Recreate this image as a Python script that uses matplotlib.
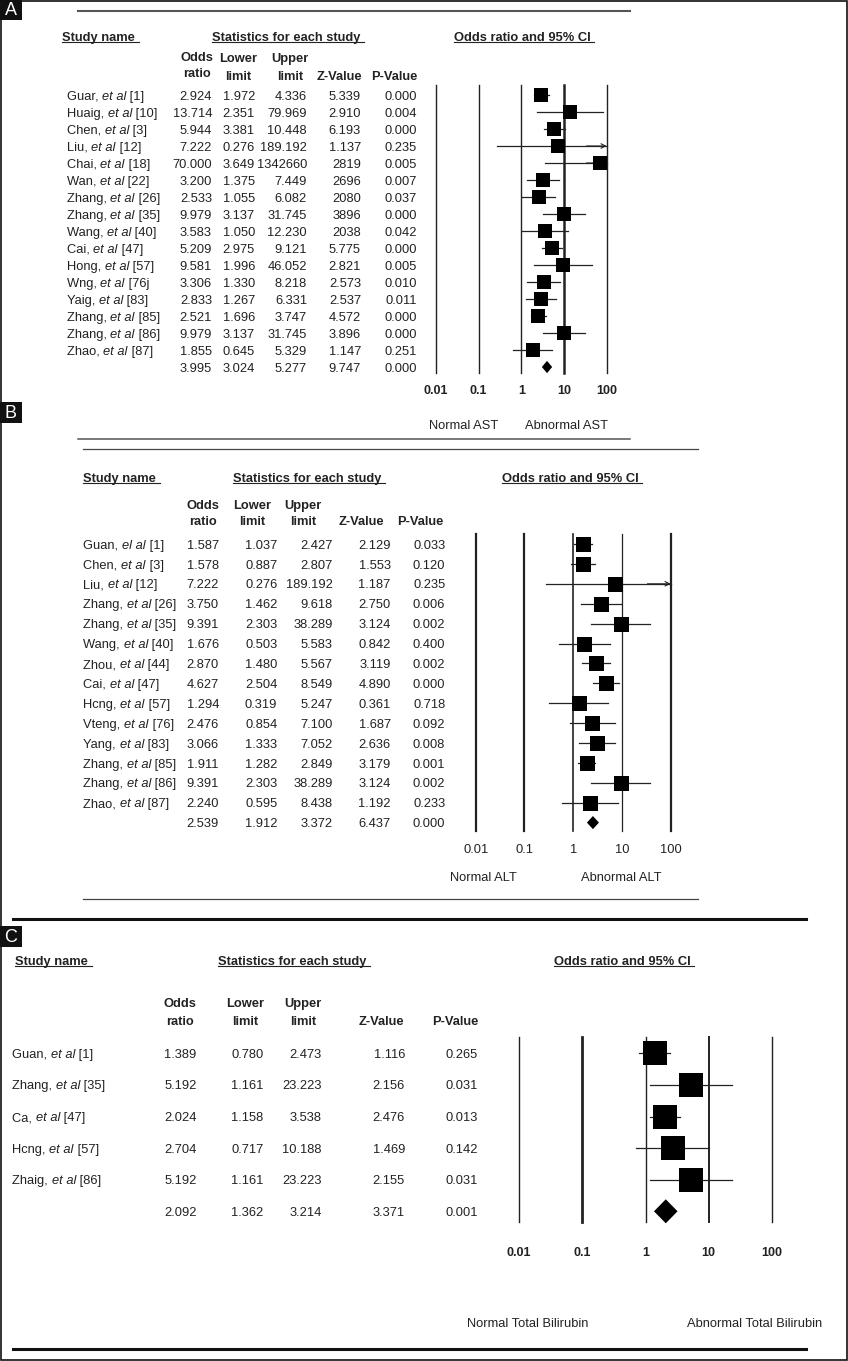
import re
import numpy as np
import matplotlib.pyplot as plt
from matplotlib.patches import Rectangle

plt.rcParams['font.family'] = ['Liberation Sans', 'DejaVu Sans']

W, H = 848, 1361
INK = '#222222'

#### Panel A: AST ####
names_a = ["Guar, et al [1]", "Huaig, et al [10]", "Chen, et al [3]", "Liu, et al [12]",
           "Chai, et al [18]", "Wan, et al [22]", "Zhang, et al [26]", "Zhang, et al [35]",
           "Wang, et al [40]", "Cai, et al [47]", "Hong, et al [57]", "Wng, et al [76j",
           "Yaig, et al [83]", "Zhang, et al [85]", "Zhang, et al [86]", "Zhao, et al [87]", ""]
or_a = ["2.924", "13.714", "5.944", "7.222", "70.000", "3.200", "2.533", "9.979", "3.583",
        "5.209", "9.581", "3.306", "2.833", "2.521", "9.979", "1.855", "3.995"]
lo_a = ["1.972", "2.351", "3.381", "0.276", "3.649", "1.375", "1.055", "3.137", "1.050",
        "2.975", "1.996", "1.330", "1.267", "1.696", "3.137", "0.645", "3.024"]
hi_a = ["4.336", "79.969", "10.448", "189.192", "1342660", "7.449", "6.082", "31.745", "12.230",
        "9.121", "46.052", "8.218", "6.331", "3.747", "31.745", "5.329", "5.277"]
z_a = ["5.339", "2.910", "6.193", "1.137", "2819", "2696", "2080", "3896", "2038",
       "5.775", "2.821", "2.573", "2.537", "4.572", "3.896", "1.147", "9.747"]
p_a = ["0.000", "0.004", "0.000", "0.235", "0.005", "0.007", "0.037", "0.000", "0.042",
       "0.000", "0.005", "0.010", "0.011", "0.000", "0.000", "0.251", "0.000"]

#### Panel B: ALT ####
names_b = ["Guan, el al [1]", "Chen, et al [3]", "Liu, et al [12]", "Zhang, et al [26]",
           "Zhang, et al [35]", "Wang, et al [40]", "Zhou, et al [44]", "Cai, et al [47]",
           "Hcng, et al [57]", "Vteng, et al [76]", "Yang, et al [83]", "Zhang, et al [85]",
           "Zhang, et al [86]", "Zhao, et al [87]", ""]
or_b = ["1.587", "1.578", "7.222", "3.750", "9.391", "1.676", "2.870", "4.627", "1.294",
        "2.476", "3.066", "1.911", "9.391", "2.240", "2.539"]
lo_b = ["1.037", "0.887", "0.276", "1.462", "2.303", "0.503", "1.480", "2.504", "0.319",
        "0.854", "1.333", "1.282", "2.303", "0.595", "1.912"]
hi_b = ["2.427", "2.807", "189.192", "9.618", "38.289", "5.583", "5.567", "8.549", "5.247",
        "7.100", "7.052", "2.849", "38.289", "8.438", "3.372"]
z_b = ["2.129", "1.553", "1.187", "2.750", "3.124", "0.842", "3.119", "4.890", "0.361",
       "1.687", "2.636", "3.179", "3.124", "1.192", "6.437"]
p_b = ["0.033", "0.120", "0.235", "0.006", "0.002", "0.400", "0.002", "0.000", "0.718",
       "0.092", "0.008", "0.001", "0.002", "0.233", "0.000"]

#### Panel C: total bilirubin ####
names_c = ["Guan, et al [1]", "Zhang, et al [35]", "Ca, et al [47]", "Hcng, et al [57]",
           "Zhaig, et al [86]", ""]
or_c = ["1.389", "5.192", "2.024", "2.704", "5.192", "2.092"]
lo_c = ["0.780", "1.161", "1.158", "0.717", "1.161", "1.362"]
hi_c = ["2.473", "23.223", "3.538", "10.188", "23.223", "3.214"]
z_c = ["1.116", "2.156", "2.476", "1.469", "2.155", "3.371"]
p_c = ["0.265", "0.031", "0.013", "0.142", "0.031", "0.001"]

ticks = [0.01, 0.1, 1, 10, 100]
tick_labels = ["0.01", "0.1", "1", "10", "100"]

# layout of each panel, in pixels of the final image
layout_a = dict(head_y=36.7, name_head_x=62, stat_head_x=212, ci_head_x=454,
                hdr2_y=(56.7, 72.7), hdr_y=(57.7, 75), hdr_cx=[197, 238, 290, 339, 394],
                name_x=66.7, row0=95, dy=17, num_right=[212, 255, 307, 361, 417],
                fx=(436, 606.7), fy=(85, 373), tick_y=390.7, tick_bold=True, tick_fs=9,
                line_w=[1.0, 1.0, 1.0, 1.8, 1.0], box=9.4, dia=0.36,
                side=("Normal AST", "Abnormal AST"), side_x=(464, 566.7), side_y=424)
layout_b = dict(head_y=477.7, name_head_x=83, stat_head_x=233, ci_head_x=502,
                hdr2_y=(504, 520.7), hdr_y=(504, 520.7), hdr_cx=[202.7, 251.7, 303, 361, 420],
                name_x=83.3, row0=544, dy=19.9, num_right=[219, 277.3, 332.7, 390.7, 445.3],
                fx=(475.7, 670.7), fy=(534, 830.7), tick_y=850, tick_bold=False, tick_fs=9.3,
                line_w=[1.6, 1.6, 1.2, 0.9, 1.6], box=10.8, dia=0.33,
                side=("Normal ALT", "Abnormal ALT"), side_x=(483, 621), side_y=876.7)
layout_c = dict(head_y=960.7, name_head_x=15, stat_head_x=218, ci_head_x=554,
                hdr2_y=(1002.7, 1020), hdr_y=(1002.7, 1020), hdr_cx=[180.3, 245, 303.3, 381.7, 455],
                name_x=12.3, row0=1053.3, dy=31.6, num_right=[196.7, 263.3, 321.7, 405, 477.7],
                fx=(519, 772), fy=(1036.7, 1221.7), tick_y=1253.3, tick_bold=True, tick_fs=9,
                line_w=[1.0, 2.0, 1.0, 1.4, 1.0], box=17.3, dia=0.38,
                side=("Normal Total Bilirubin", "Abnormal Total Bilirubin"),
                side_x=(527.7, 755), side_y=1322.7)

fig = plt.figure(figsize=(W / 100, H / 100), dpi=100)
bg = fig.add_axes([0, 0, 1, 1])
bg.set_xlim(0, W)
bg.set_ylim(H, 0)
bg.axis('off')
renderer = fig.canvas.get_renderer()

FS = 9.3
BASE = 4.6   # pixels from the middle of a digit down to the baseline


def text_width(s, **kw):
    # width in pixels, keeping trailing spaces by adding a bar and taking it away
    t1 = bg.text(0, 0, s + '|', fontsize=FS, **kw)
    t2 = bg.text(0, 0, '|', fontsize=FS, **kw)
    w = t1.get_window_extent(renderer).width - t2.get_window_extent(renderer).width
    t1.remove()
    t2.remove()
    return w


def put(x, y, s, **kw):
    # y is the visual middle of the line; draw on a shared baseline
    kw.setdefault('fontsize', FS)
    kw.setdefault('color', INK)
    return bg.text(x, y + BASE, s, va='baseline', **kw)


def draw_name(x, y, name):
    for part in re.split(r'(e[tl] al)', name):
        if not part:
            continue
        style = 'italic' if re.fullmatch(r'e[tl] al', part) else 'normal'
        put(x, y, part, style=style, ha='left')
        x += text_width(part, style=style)


def underlined(x, y, s):
    put(x, y, s, fontweight='bold', ha='left')
    w = text_width(s + ' ', fontweight='bold')
    bg.plot([x, x + w], [y + 5.5, y + 5.5], color=INK, lw=0.8)


def draw_panel(L, names, ors, los, his, zs, ps):
    underlined(L['name_head_x'], L['head_y'], "Study name")
    underlined(L['stat_head_x'], L['head_y'], "Statistics for each study")
    underlined(L['ci_head_x'], L['head_y'], "Odds ratio and 95% CI")

    cx = L['hdr_cx']
    hk = dict(fontweight='bold', ha='center')
    put(cx[0], L['hdr2_y'][0], "Odds", **hk)
    put(cx[0], L['hdr2_y'][1], "ratio", **hk)
    put(cx[1], L['hdr_y'][0], "Lower", **hk)
    put(cx[1], L['hdr_y'][1], "limit", **hk)
    put(cx[2], L['hdr_y'][0], "Upper", **hk)
    put(cx[2], L['hdr_y'][1], "limit", **hk)
    put(cx[3], L['hdr_y'][1], "Z-Value", **hk)
    put(cx[4], L['hdr_y'][1], "P-Value", **hk)

    for i, name in enumerate(names):
        y = L['row0'] + i * L['dy']
        if name:
            draw_name(L['name_x'], y, name)
        for xr, col in zip(L['num_right'], (ors, los, his, zs, ps)):
            put(xr, y, col[i], ha='right')

    # forest plot on its own log axes
    x0, x1 = L['fx']
    y0, y1 = L['fy']
    ax = fig.add_axes([x0 / W, 1 - y1 / H, (x1 - x0) / W, (y1 - y0) / H])
    ax.set_xscale('log')
    ax.set_xlim(ticks[0], ticks[-1])
    ax.set_ylim((y1 - L['row0']) / L['dy'], (y0 - L['row0']) / L['dy'])
    ax.axis('off')
    for v, lw in zip(ticks, L['line_w']):
        ax.axvline(v, color=INK, lw=lw, clip_on=False, zorder=1)

    ty = (y1 - L['tick_y']) / (y1 - y0)
    for v, lab in zip(ticks, tick_labels):
        ax.text(v, ty, lab, transform=ax.get_xaxis_transform(), ha='center', va='center',
                fontsize=L['tick_fs'], fontweight='bold' if L['tick_bold'] else 'normal',
                color=INK)

    n = len(ors)
    orv = np.array([float(s) for s in ors])
    lov = np.array([float(s) for s in los])
    hiv = np.array([float(s) for s in his])
    for i in range(n - 1):
        right = min(hiv[i], ticks[-1])
        ax.plot([max(lov[i], ticks[0]), right], [i, i], color=INK, lw=0.9,
                clip_on=False, zorder=2)
        if hiv[i] > ticks[-1]:
            ax.annotate('', xy=(ticks[-1], i), xytext=(ticks[-1] / 3, i),
                        arrowprops=dict(arrowstyle='->', color=INK, lw=0.8,
                                        shrinkA=0, shrinkB=0, mutation_scale=8),
                        annotation_clip=False, zorder=2)
        ax.plot(orv[i], i, marker='s', ms=L['box'], mew=0, color='black',
                clip_on=False, zorder=3)
    s = n - 1
    h = L['dia']
    ax.fill([lov[s], orv[s], hiv[s], orv[s]], [s, s - h, s, s + h], color='black',
            lw=0, clip_on=False, zorder=3)

    for lab, xs in zip(L['side'], L['side_x']):
        put(xs, L['side_y'], lab, ha='center')


draw_panel(layout_a, names_a, or_a, lo_a, hi_a, z_a, p_a)
draw_panel(layout_b, names_b, or_b, lo_b, hi_b, z_b, p_b)
draw_panel(layout_c, names_c, or_c, lo_c, hi_c, z_c, p_c)

# separating rules
bg.plot([78, 630], [11, 11], color='#555555', lw=1.5)
bg.plot([78, 630], [439, 439], color='#555555', lw=1.1)
bg.plot([83, 698], [449, 449], color='#444444', lw=0.9)
bg.plot([83, 698], [899, 899], color='#444444', lw=0.9)
bg.plot([13, 806], [919, 919], color='#111111', lw=2.2)
bg.plot([13, 806], [1349, 1349], color='#111111', lw=2.2)

# panel letters
for lab, y0, y1 in (("A", 0, 20), ("B", 402, 423), ("C", 926, 947)):
    bg.add_patch(Rectangle((0, y0), 21.5, y1 - y0, color='#111111', lw=0))
    bg.text(10.8, (y0 + y1) / 2 + 0.5, lab, color='white', fontsize=13, ha='center', va='center')

bg.add_patch(Rectangle((0.8, 0.8), W - 1.6, H - 1.6, fill=False, lw=1.2, edgecolor='#111111'))

fig.savefig('out.png', dpi=100)
